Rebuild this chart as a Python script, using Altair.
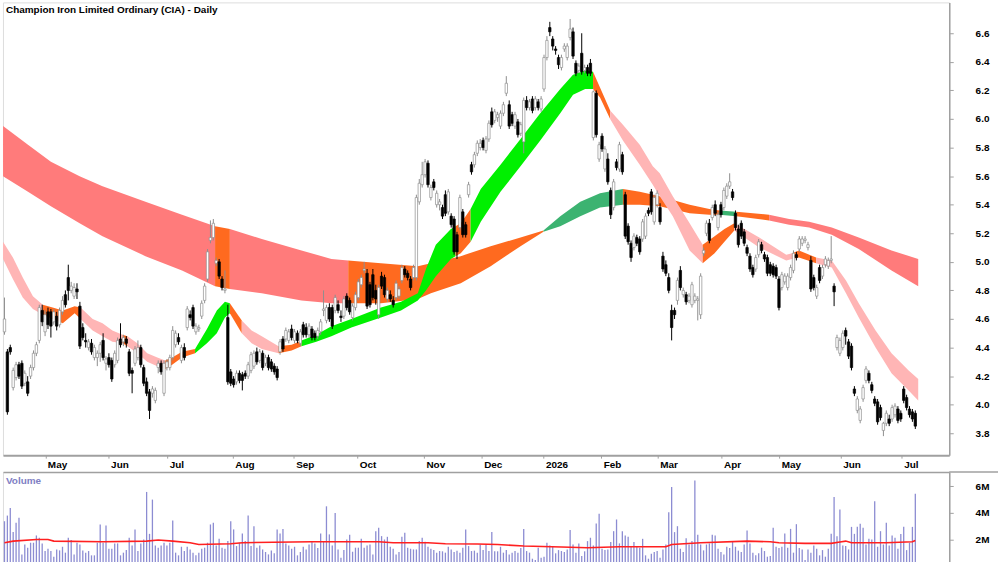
import altair as alt
import pandas as pd

FONT = "Liberation Sans, Arial, sans-serif"
TITLE = "Champion Iron Limited Ordinary (CIA) - Daily"

# ---------------- daily candles (price, AUD) ----------------
opens = [
    4.51,4.37,4.40,4.12,4.19,4.28,4.29,4.15,4.16,4.20,
    4.26,4.36,4.45,4.66,4.51,4.65,4.65,4.58,4.62,4.56,
    4.65,4.77,4.89,4.80,4.76,4.81,4.69,4.54,4.45,4.40,
    4.43,4.33,4.33,4.36,4.45,4.29,4.33,4.31,4.28,4.31,
    4.46,4.44,4.46,4.37,4.24,4.29,4.33,4.40,4.26,4.16,
    4.09,4.08,4.03,4.26,4.29,4.08,4.26,4.26,4.33,4.42,
    4.47,4.31,4.40,4.54,4.63,4.68,4.51,4.53,4.62,4.73,
    4.88,5.15,5.17,4.99,5.00,4.88,4.80,4.61,4.23,4.18,
    4.16,4.22,4.21,4.22,4.20,4.24,4.27,4.37,4.31,4.36,
    4.29,4.33,4.30,4.27,4.25,4.37,4.46,4.46,4.45,4.53,
    4.45,4.50,4.43,4.56,4.54,4.49,4.53,4.50,4.48,4.51,
    4.66,4.59,4.68,
    4.68,4.66,4.70,4.62,4.62,4.76,4.73,4.61,4.68,4.75,
    4.84,4.94,4.92,4.84,4.91,4.80,4.63,4.90,4.89,4.74,
    4.77,4.73,4.75,4.76,4.87,4.95,4.92,4.88,4.89,4.89,
    5.42,5.54,5.61,5.69,5.45,5.56,5.40,5.40,5.38,5.47,
    5.35,5.32,5.30,5.19,5.24,5.35,5.26,5.47,5.68,5.68,
    5.76,5.80,5.85,5.78,5.86,6.05,5.99,6.01,5.95,6.04,
    6.18,6.10,6.03,5.95,5.98,5.90,5.84,6.13,6.08,6.14,
    6.08,6.12,6.07,6.21,6.43,6.64,6.56,6.49,6.43,
    6.36,6.49,6.43,6.57,6.61,6.39,6.34,6.46,6.34,6.36,
    6.39,5.87,6.18,5.72,5.88,5.65,5.72,5.50,5.38,5.70,
    5.65,5.75,5.47,5.25,5.13,5.10,5.17,5.16,5.16,5.18,
    5.36,5.49,5.28,5.40,
    5.38,5.04,4.98,4.89,4.66,4.66,4.73,4.94,4.77,4.77,
    4.73,4.70,4.73,4.73,4.63,5.06,5.20,5.27,5.31,5.40,
    5.24,5.40,5.38,5.46,5.53,5.49,5.34,5.23,5.27,5.21,
    5.10,5.04,4.96,4.95,5.05,5.12,5.05,5.03,4.98,4.97,
    4.96,4.88,4.82,4.86,4.82,4.89,4.94,5.05,5.09,5.13,
    5.15,5.10,5.01,4.89,4.76,4.96,4.90,4.98,4.97,5.01,
    4.83,4.40,4.36,4.40,4.52,4.44,4.41,4.11,3.96,3.89,
    4.04,4.17,4.22,4.14,4.04,4.02,3.98,3.82,3.87,3.90,
    3.90,3.93,3.97,3.94,4.11,4.05,3.97,3.95,3.94,
]
highs = [
    4.75,4.39,4.42,4.26,4.30,4.30,4.31,4.24,4.20,4.28,
    4.38,4.44,4.70,4.70,4.66,4.68,4.67,4.67,4.65,4.68,
    4.76,4.80,4.98,4.86,4.85,4.85,4.72,4.57,4.50,4.46,
    4.46,4.42,4.38,4.44,4.50,4.34,4.36,4.33,4.38,4.47,
    4.57,4.49,4.48,4.39,4.26,4.41,4.45,4.42,4.28,4.19,
    4.11,4.13,4.12,4.31,4.31,4.31,4.32,4.35,4.55,4.52,
    4.50,4.42,4.43,4.69,4.66,4.70,4.57,4.56,4.73,4.85,
    5.09,5.29,5.30,5.03,5.02,4.90,4.94,4.70,4.25,4.20,
    4.24,4.24,4.23,4.24,4.30,4.37,4.38,4.40,4.39,4.38,
    4.35,4.35,4.32,4.29,4.27,4.46,4.48,4.54,4.53,4.56,
    4.53,4.52,4.53,4.58,4.57,4.57,4.55,4.52,4.54,4.60,
    4.80,4.70,4.71,
    4.70,4.77,4.73,4.66,4.76,4.78,4.75,4.71,4.79,4.88,
    4.91,5.00,4.95,4.86,4.95,4.84,4.84,4.93,4.91,4.82,
    4.80,4.76,4.87,4.83,4.98,4.97,4.94,4.90,4.98,5.47,
    5.58,5.70,5.72,5.71,5.54,5.58,5.50,5.44,5.40,5.50,
    5.51,5.34,5.32,5.21,5.47,5.37,5.28,5.56,5.70,5.77,
    5.85,5.86,5.87,5.88,5.99,6.08,6.07,6.05,6.06,6.12,
    6.30,6.13,6.05,6.05,6.00,5.98,6.15,6.16,6.14,6.16,
    6.16,6.14,6.16,6.45,6.58,6.68,6.58,6.51,6.45,
    6.45,6.53,6.53,6.70,6.64,6.41,6.39,6.60,6.38,6.38,
    6.42,6.20,6.20,5.84,5.90,5.81,5.76,5.52,5.58,5.72,
    5.84,5.77,5.49,5.27,5.15,5.20,5.19,5.18,5.30,5.34,
    5.38,5.51,5.47,5.50,
    5.41,5.07,5.01,4.92,4.70,4.68,4.89,4.97,4.82,4.79,
    4.78,4.86,4.78,4.76,4.92,5.10,5.29,5.30,5.40,5.43,
    5.35,5.42,5.52,5.55,5.62,5.51,5.36,5.26,5.29,5.23,
    5.12,5.06,4.98,5.05,5.16,5.14,5.07,5.05,5.00,4.99,
    4.98,4.90,4.93,4.92,4.92,4.98,5.08,5.07,5.18,5.18,
    5.18,5.14,5.04,4.91,4.84,4.98,4.98,5.04,5.03,5.18,
    4.85,4.49,4.47,4.52,4.54,4.46,4.43,4.13,4.06,3.99,
    4.14,4.27,4.24,4.16,4.06,4.04,4.00,3.88,3.96,3.93,
    4.00,4.01,3.99,3.96,4.13,4.07,3.99,3.97,3.96,
]
lows = [
    4.49,3.93,4.35,4.10,4.17,4.18,4.11,4.13,4.06,4.18,
    4.24,4.34,4.43,4.55,4.48,4.53,4.47,4.56,4.52,4.54,
    4.63,4.68,4.73,4.78,4.74,4.74,4.39,4.45,4.40,4.38,
    4.35,4.31,4.27,4.30,4.31,4.24,4.26,4.16,4.26,4.29,
    4.40,4.41,4.40,4.20,4.08,4.27,4.31,4.26,4.13,4.06,
    3.90,4.05,4.01,4.22,4.21,4.06,4.24,4.24,4.31,4.40,
    4.42,4.29,4.31,4.52,4.59,4.53,4.49,4.51,4.60,4.71,
    4.86,5.13,5.15,4.97,4.88,4.80,4.78,4.14,4.13,4.12,
    4.14,4.15,4.10,4.18,4.18,4.22,4.25,4.28,4.29,4.24,
    4.27,4.24,4.23,4.21,4.17,4.35,4.37,4.44,4.43,4.45,
    4.43,4.43,4.41,4.47,4.47,4.47,4.45,4.45,4.46,4.49,
    4.62,4.57,4.58,
    4.53,4.64,4.64,4.58,4.60,4.66,4.63,4.59,4.66,4.73,
    4.82,4.92,4.67,4.68,4.73,4.70,4.60,4.81,4.75,4.72,
    4.72,4.68,4.73,4.74,4.85,4.89,4.87,4.80,4.87,4.87,
    5.40,5.52,5.59,5.52,5.43,5.50,5.38,5.36,5.30,5.32,
    5.33,5.24,5.05,5.02,5.22,5.17,5.17,5.45,5.61,5.66,
    5.74,5.78,5.78,5.76,5.84,5.94,5.97,5.98,5.93,6.02,
    6.16,5.93,5.95,5.93,5.87,5.88,5.76,6.06,6.06,6.04,
    6.06,6.06,6.05,6.19,6.41,6.58,6.48,6.45,6.35,
    6.34,6.47,6.41,6.55,6.42,6.30,6.32,6.31,6.32,6.30,
    6.30,5.85,5.87,5.70,5.77,5.63,5.54,5.30,5.36,5.64,
    5.63,5.61,5.16,5.12,5.00,5.08,5.11,5.05,5.14,5.16,
    5.32,5.33,5.26,5.38,
    5.26,4.93,4.90,4.78,4.45,4.60,4.70,4.80,4.75,4.70,
    4.71,4.68,4.71,4.59,4.60,5.04,5.18,5.13,5.29,5.32,
    5.22,5.31,5.36,5.44,5.51,5.43,5.22,5.10,5.16,5.11,
    5.04,4.93,4.89,4.93,5.03,5.06,5.00,4.90,4.90,4.89,
    4.88,4.66,4.80,4.84,4.80,4.87,4.92,5.01,5.07,5.11,
    5.13,5.08,4.79,4.80,4.74,4.85,4.88,4.96,4.95,4.99,
    4.69,4.38,4.34,4.38,4.42,4.32,4.24,4.06,3.94,3.87,
    4.02,4.15,4.15,4.08,3.99,3.86,3.89,3.78,3.85,3.85,
    3.88,3.91,3.87,3.88,4.01,3.96,3.91,3.88,3.83,
]
closes = [
    4.60,3.95,4.37,4.24,4.28,4.20,4.13,4.22,4.08,4.26,
    4.36,4.42,4.68,4.58,4.63,4.56,4.55,4.65,4.55,4.66,
    4.73,4.70,4.80,4.83,4.82,4.79,4.41,4.47,4.44,4.44,
    4.37,4.40,4.36,4.42,4.33,4.32,4.28,4.18,4.36,4.45,
    4.42,4.47,4.43,4.22,4.22,4.39,4.40,4.28,4.15,4.08,
    3.96,4.11,4.10,4.29,4.23,4.29,4.30,4.33,4.52,4.50,
    4.44,4.40,4.33,4.67,4.61,4.55,4.55,4.54,4.71,4.83,
    5.07,5.17,5.27,5.01,4.90,4.82,4.81,4.16,4.15,4.14,
    4.22,4.17,4.17,4.20,4.28,4.35,4.36,4.30,4.37,4.26,
    4.33,4.26,4.25,4.23,4.19,4.44,4.39,4.52,4.51,4.47,
    4.51,4.45,4.51,4.49,4.49,4.55,4.47,4.47,4.52,4.58,
    4.67,4.68,4.60,
    4.55,4.75,4.66,4.61,4.74,4.68,4.65,4.69,4.77,4.86,
    4.89,4.95,4.69,4.70,4.75,4.74,4.82,4.83,4.77,4.80,
    4.74,4.70,4.85,4.81,4.96,4.91,4.89,4.82,4.96,5.45,
    5.55,5.61,5.70,5.54,5.52,5.52,5.48,5.42,5.32,5.34,
    5.49,5.26,5.07,5.07,5.45,5.19,5.19,5.54,5.63,5.75,
    5.83,5.83,5.80,5.86,5.97,5.96,6.05,6.03,6.04,6.10,
    6.25,5.95,5.97,6.03,5.89,5.96,6.13,6.08,6.12,6.06,
    6.14,6.08,6.14,6.43,6.55,6.61,6.51,6.48,6.38,
    6.43,6.51,6.51,6.63,6.44,6.32,6.37,6.33,6.36,6.32,
    6.32,6.19,5.89,5.82,5.79,5.79,5.56,5.33,5.56,5.66,
    5.82,5.63,5.18,5.14,5.03,5.18,5.13,5.07,5.28,5.32,
    5.34,5.35,5.45,5.48,
    5.28,4.95,4.92,4.80,4.54,4.63,4.87,4.82,4.80,4.72,
    4.76,4.84,4.76,4.74,4.90,5.08,5.27,5.15,5.38,5.34,
    5.33,5.33,5.50,5.53,5.56,5.45,5.24,5.12,5.18,5.13,
    5.06,4.95,4.91,5.03,5.14,5.08,5.02,4.92,4.92,4.91,
    4.90,4.68,4.91,4.90,4.90,4.96,5.06,5.03,5.16,5.16,
    5.16,5.12,4.81,4.82,4.82,4.87,4.96,5.02,5.01,5.02,
    4.79,4.47,4.45,4.50,4.48,4.34,4.26,4.08,4.04,3.97,
    4.12,4.25,4.17,4.10,4.01,3.88,3.91,3.87,3.94,3.87,
    3.98,3.99,3.89,3.90,4.03,3.98,3.93,3.90,3.85,
]

# ---------------- daily volume (millions of shares) ----------------
volume_m = [
    3.38,3.80,4.37,2.57,3.26,3.63,0.91,1.65,1.41,1.78,
    1.78,2.32,2.15,1.73,1.16,1.33,1.16,0.74,1.28,1.21,
    1.48,1.04,2.15,1.98,0.91,1.78,1.65,1.21,1.04,1.16,
    0.84,0.84,1.78,3.14,1.78,3.06,1.33,1.33,1.73,1.73,
    0.84,1.04,1.23,2.15,1.58,2.77,1.16,1.73,2.02,5.56,
    2.44,4.99,1.58,1.41,1.58,1.78,1.58,1.78,3.43,1.04,
    0.84,1.48,1.16,1.48,1.28,1.04,0.84,1.04,1.33,1.41,
    1.78,3.14,3.26,1.58,2.07,1.41,1.33,1.90,3.38,2.77,
    1.53,1.78,2.47,1.90,3.80,1.53,3.01,1.41,1.58,1.28,
    1.09,0.91,1.21,0.99,2.77,2.47,2.81,1.73,1.58,1.33,
    1.48,0.84,1.09,1.48,1.28,1.65,1.90,
    1.73,1.38,2.47,1.90,4.49,2.40,1.58,4.00,1.28,0.67,
    1.23,2.02,2.37,1.11,1.41,1.41,2.07,1.41,1.58,1.65,
    0.91,2.64,2.89,2.27,2.02,2.22,1.48,1.33,0.91,1.09,
    2.22,2.52,1.41,1.33,1.28,1.28,1.90,2.15,1.85,1.48,
    1.33,1.23,1.04,1.16,1.14,1.04,1.48,1.28,1.09,1.19,
    1.04,1.41,2.77,1.53,1.16,1.19,1.04,1.63,1.23,1.65,
    1.16,2.57,1.14,1.14,1.48,1.04,1.23,0.91,1.04,1.16,
    1.04,1.38,2.81,1.16,1.04,0.59,0.49,1.41,0.67,0.74,
    1.78,1.58,1.53,0.99,1.23,1.16,1.09,1.28,2.72,1.65,
    1.04,1.73,0.79,1.14,1.90,2.15,1.58,3.21,3.93,1.33,
    1.23,1.28,1.83,2.64,3.51,1.73,
    2.64,2.32,2.22,1.53,1.83,1.48,1.41,2.07,0.84,0.59,
    0.96,1.09,1.16,0.67,1.28,1.65,4.05,5.93,2.57,3.01,
    1.33,1.09,2.12,1.65,1.90,6.42,2.37,1.65,1.21,
    1.65,1.73,2.37,2.32,1.33,1.09,0.91,1.48,1.38,1.90,
    1.48,1.19,1.09,1.65,2.69,1.73,1.04,0.84,0.99,1.41,
    1.16,0.74,0.79,2.89,1.48,1.38,1.48,2.47,1.41,2.81,
    1.04,3.16,1.38,1.28,0.49,1.28,1.04,1.58,1.33,0.84,
    1.23,0.74,1.33,2.44,5.19,2.27,4.25,1.58,1.53,1.28,
    2.96,2.44,2.96,3.19,2.89,1.65,2.07,2.02,4.86,1.48,
    2.64,1.65,3.26,1.58,2.32,2.15,1.33,2.42,2.96,1.23,
    1.78,2.96,5.43,
]

# volume moving average (red line), sampled at bar positions
vol_ma_idx = [0, 3, 11, 15, 17, 34, 49, 53, 58, 64, 67, 78, 82, 106, 129, 134, 146, 152, 163, 170,
              179, 192, 201, 212, 228, 230, 240, 256, 264, 267, 276, 285, 288, 290, 292, 304, 313, 314]
vol_ma_val = [1.78, 1.90, 2.02, 2.02, 1.90, 1.85, 1.90, 1.98, 1.90, 1.78, 1.65, 1.70, 1.78, 1.85, 1.85, 1.78, 1.78, 1.70, 1.68, 1.65,
              1.53, 1.46, 1.41, 1.48, 1.48, 1.65, 1.78, 1.90, 1.85, 1.78, 1.73, 1.73, 1.83, 1.90, 1.78, 1.78, 1.85, 1.95]

# ---------------- long-term moving-average ribbon ----------------
long_idx = [-0.5, 8.1, 16.0, 25.9, 33.8, 48.6, 61.2, 72.6, 77.7, 88.7, 102.4, 112.7, 118.5, 129.8, 142.5, 147.0,
            157.3, 167.6, 177.9, 185.8, 191.6, 198.5, 205.3, 213.2, 219.0, 225.9, 236.2, 243.0, 246.5, 252.3,
            263.6, 270.5, 277.4, 285.2, 294.5, 305.8, 315.0]
long_top = [5.95, 5.82, 5.70, 5.60, 5.53, 5.42, 5.33, 5.25, 5.23, 5.16, 5.08, 5.02, 5.01, 4.99, 4.97, 4.99,
            5.04, 5.11, 5.17, 5.22, 5.32, 5.42, 5.48, 5.51, 5.49, 5.46, 5.40, 5.37, 5.36, 5.35,
            5.33, 5.30, 5.28, 5.24, 5.17, 5.08, 5.02]
long_bot = [5.60, 5.49, 5.39, 5.27, 5.18, 5.04, 4.94, 4.83, 4.81, 4.78, 4.73, 4.71, 4.71, 4.71, 4.74, 4.78,
            4.85, 4.97, 5.11, 5.21, 5.25, 5.32, 5.38, 5.40, 5.40, 5.39, 5.34, 5.33, 5.33, 5.32,
            5.29, 5.26, 5.24, 5.19, 5.09, 4.94, 4.83]
long_seg_start = [-0.5, 72.6, 77.7, 118.5, 185.8, 213.2, 246.5, 252.3, 263.6]
long_seg_color = ["red", "orange", "red", "orange", "lgreen", "orange", "lgreen", "orange", "red"]

# ---------------- short-term moving-average ribbon ----------------
short_idx = [-0.5, 2.9, 6.3, 9.8, 13.2, 16.6, 20.1, 24.2, 26.2, 30.4, 33.8, 37.2, 40.7, 42.4, 45.8, 49.2,
             52.7, 55.4, 57.8, 61.2, 65.7, 69.8, 73.2, 76.0, 77.7, 81.8, 85.2, 88.7, 94.5, 99.0, 102.4, 107.5,
             112.7, 119.6, 129.8, 136.7, 142.5, 145.3, 148.7, 153.9, 155.5, 157.3, 160.7, 164.2, 171.0, 177.9,
             184.7, 191.6, 196.0, 200.2, 202.9, 205.3, 208.8, 213.2, 219.0, 223.5, 225.9, 230.4, 236.2, 240.7,
             244.8, 248.2, 251.6, 255.1, 260.2, 269.5, 271.5, 273.9, 279.8, 285.2, 290.1, 294.5, 300.3, 305.8,
             311.7, 315.0]
short_top = [5.14, 5.03, 4.89, 4.76, 4.70, 4.68, 4.66, 4.69, 4.68, 4.60, 4.57, 4.52, 4.49, 4.48, 4.43, 4.36,
             4.33, 4.31, 4.33, 4.37, 4.39, 4.53, 4.66, 4.72, 4.71, 4.59, 4.52, 4.48, 4.41, 4.42, 4.45, 4.49,
             4.55, 4.60, 4.68, 4.72, 4.78, 4.95, 5.12, 5.23, 5.25, 5.27, 5.37, 5.51, 5.68, 5.86,
             6.04, 6.21, 6.31, 6.34, 6.33, 6.22, 6.06, 5.96, 5.82, 5.67, 5.62, 5.46, 5.27, 5.12,
             5.18, 5.23, 5.27, 5.23, 5.17, 5.05, 5.06, 5.08, 5.03, 5.01, 4.87, 4.71, 4.52, 4.36,
             4.24, 4.18]
short_bot = [5.02, 4.88, 4.75, 4.67, 4.63, 4.60, 4.57, 4.64, 4.60, 4.52, 4.48, 4.44, 4.43, 4.41, 4.36, 4.30,
             4.27, 4.25, 4.28, 4.33, 4.36, 4.43, 4.50, 4.61, 4.64, 4.50, 4.43, 4.39, 4.36, 4.38, 4.41, 4.44,
             4.48, 4.54, 4.61, 4.66, 4.73, 4.80, 4.90, 5.02, 5.04, 5.06, 5.14, 5.28, 5.49, 5.67,
             5.85, 6.04, 6.17, 6.21, 6.21, 6.15, 6.00, 5.85, 5.68, 5.54, 5.46, 5.32, 5.08, 4.99,
             5.06, 5.14, 5.22, 5.17, 5.10, 5.01, 5.02, 5.03, 4.99, 4.96, 4.78, 4.61, 4.40, 4.22,
             4.10, 4.03]
short_seg_start = [-0.5, 13.2, 26.2, 40.7, 42.4, 55.4, 65.7, 77.7, 81.8, 94.5, 102.4, 155.5, 160.7,
                   202.9, 208.8, 240.7, 251.6, 271.5, 279.8]
short_seg_color = ["pink", "orange", "pink", "orange", "pink", "orange", "sgreen", "orange", "pink",
                   "orange", "sgreen", "orange", "sgreen", "orange", "pink", "orange", "pink", "orange", "pink"]

# ---------------- axes ----------------
month_labels = ["May", "Jun", "Jul", "Aug", "Sep", "Oct", "Nov", "Dec", "2026",
                "Feb", "Mar", "Apr", "May", "Jun", "Jul"]
month_pos = [14.1, 35.9, 56.1, 78.7, 99.7, 121.6, 144.6, 164.5, 185.8,
             205.7, 225.2, 247.2, 267.1, 288.3, 309.3]
price_ticks = [3.8, 4.0, 4.2, 4.4, 4.6, 4.8, 5.0, 5.2, 5.4, 5.6, 5.8, 6.0, 6.2, 6.4, 6.6]
vol_ticks = [2, 4, 6]

COLORS = {
    "red": "#FF7B7B",
    "orange": "#FF6A1F",
    "lgreen": "#3CB371",
    "pink": "#FFB5B5",
    "sgreen": "#00F000",
}
UP_FILL, UP_EDGE = "#FFFFFF", "#8E8E8E"
DOWN_FILL, DOWN_EDGE = "#000000", "#000000"
FRAME = "#A0A0A0"
VOL_COLOR = "#8C8CD2"
MA_COLOR = "#FF2020"


def band_frame(idx, top, bot, starts, colors):
    bounds = list(starts) + [idx[-1]]
    rows = []
    for k, c in enumerate(colors):
        a, b = bounds[k], bounds[k + 1]
        for i, t, bt in zip(idx, top, bot):
            if a <= i <= b:
                rows.append({"idx": i, "top": t, "bot": bt, "seg": f"s{k:02d}", "color": COLORS[c]})
    return pd.DataFrame(rows)


long_df = band_frame(long_idx, long_top, long_bot, long_seg_start, long_seg_color)
short_df = band_frame(short_idx, short_top, short_bot, short_seg_start, short_seg_color)

N = min(len(opens), len(highs), len(lows), len(closes))
candles = pd.DataFrame({
    "idx": list(range(N)),
    "o": opens[:N], "h": highs[:N], "l": lows[:N], "c": closes[:N],
})
up = candles["c"] >= candles["o"]
candles["fill"] = up.map({True: UP_FILL, False: DOWN_FILL})
candles["edge"] = up.map({True: UP_EDGE, False: DOWN_EDGE})

vol_df = pd.DataFrame({"idx": list(range(len(volume_m))), "v": volume_m})
ma_df = pd.DataFrame({"idx": vol_ma_idx, "v": vol_ma_val})

x_scale = alt.Scale(domain=[-0.515, 325.7], nice=False, zero=False, padding=0)
y_scale = alt.Scale(domain=[3.647, 6.816], nice=False, zero=False, padding=0)
v_scale = alt.Scale(domain=[0.30, 7.04], nice=False, zero=False, padding=0)

labels_js = "[" + ",".join("'" + m + "'" for m in month_labels) + "]"
pos_js = "[" + ",".join(repr(p) for p in month_pos) + "]"
label_expr = labels_js + "[indexof(" + pos_js + ", datum.value)]"

x_axis = alt.Axis(
    values=month_pos, labelExpr=label_expr, grid=False, title=None,
    tickSize=3, tickColor=FRAME, domainColor=FRAME, domainWidth=2,
    labelAlign="left", labelBaseline="top", labelPadding=1, labelOffset=2,
    labelFont=FONT, labelFontSize=10, labelFontWeight="bold", labelColor="#000000",
    labelFlush=False, labelOverlap=False, minExtent=14, maxExtent=14,
)
y_axis = alt.Axis(
    orient="right", values=price_ticks, format=".1f", grid=False, title=None,
    tickSize=4, tickColor=FRAME, domainColor=FRAME, domainWidth=1.5,
    labelPadding=22, labelFont=FONT, labelFontSize=10, labelFontWeight="bold",
    labelColor="#000000", minExtent=48, maxExtent=48,
)
vx_axis = alt.Axis(
    orient="top", grid=False, title=None, labels=False, ticks=False,
    domainColor=FRAME, domainWidth=1.5, minExtent=0, maxExtent=0,
)
v_axis = alt.Axis(
    orient="right", values=vol_ticks, labelExpr="datum.value + 'M'", grid=False, title=None,
    tickSize=4, tickColor=FRAME, domainColor=FRAME, domainWidth=1.5,
    labelPadding=22, labelFont=FONT, labelFontSize=10, labelFontWeight="bold",
    labelColor="#000000", minExtent=48, maxExtent=48,
)

X = alt.X("idx:Q", scale=x_scale, axis=x_axis)

long_area = alt.Chart(long_df).mark_area(opacity=1).encode(
    x=X,
    y=alt.Y("top:Q", scale=y_scale, axis=y_axis),
    y2="bot:Q",
    color=alt.Color("color:N", scale=None),
    detail="seg:N",
)
short_area = alt.Chart(short_df).mark_area(opacity=1).encode(
    x=X,
    y=alt.Y("top:Q", scale=y_scale, axis=y_axis),
    y2="bot:Q",
    color=alt.Color("color:N", scale=None),
    detail="seg:N",
)
wicks = alt.Chart(candles).mark_rule(strokeWidth=1).encode(
    x=X,
    y=alt.Y("l:Q", scale=y_scale, axis=y_axis),
    y2="h:Q",
    color=alt.Color("edge:N", scale=None),
)
bodies = alt.Chart(candles).mark_bar(width=2.4, strokeWidth=0.7).encode(
    x=X,
    y=alt.Y("o:Q", scale=y_scale, axis=y_axis),
    y2="c:Q",
    fill=alt.Fill("fill:N", scale=None),
    stroke=alt.Stroke("edge:N", scale=None),
)
title_txt = alt.Chart(pd.DataFrame({"t": [TITLE]})).mark_text(
    align="left", baseline="middle", font=FONT, fontSize=10, fontWeight="bold", color="#000000"
).encode(x=alt.value(3), y=alt.value(8), text="t:N")

price = alt.layer(long_area, short_area, wicks, bodies, title_txt).properties(width=951, height=455)

VX = alt.X("idx:Q", scale=x_scale, axis=vx_axis)
vbars = alt.Chart(vol_df).mark_rule(strokeWidth=1.3, color=VOL_COLOR).encode(
    x=VX,
    y=alt.Y("v:Q", scale=v_scale, axis=v_axis),
    y2=alt.datum(0.30),
)
ma_line = alt.Chart(ma_df).mark_line(color=MA_COLOR, strokeWidth=1.6).encode(
    x=VX,
    y=alt.Y("v:Q", scale=v_scale, axis=v_axis),
)
top_rule = alt.Chart(pd.DataFrame({"a": [0]})).mark_rule(color=FRAME, strokeWidth=1.5).encode(
    x=alt.value(951), x2=alt.value(1000), y=alt.value(0)
)
vol_label = alt.Chart(pd.DataFrame({"t": ["Volume"]})).mark_text(
    align="left", baseline="middle", font=FONT, fontSize=10, fontWeight="bold", color="#8080C4"
).encode(x=alt.value(3), y=alt.value(9), text="t:N")

volume = alt.layer(vbars, ma_line, top_rule, vol_label).properties(width=951, height=91)

chart = alt.vconcat(price, volume, spacing=0).properties(
    padding={"left": 0, "top": 0, "right": 0, "bottom": 0}
).configure_view(strokeWidth=0).configure(background="#FFFFFF")

chart.save("out.html", embed_options={"renderer": "svg", "actions": False})
